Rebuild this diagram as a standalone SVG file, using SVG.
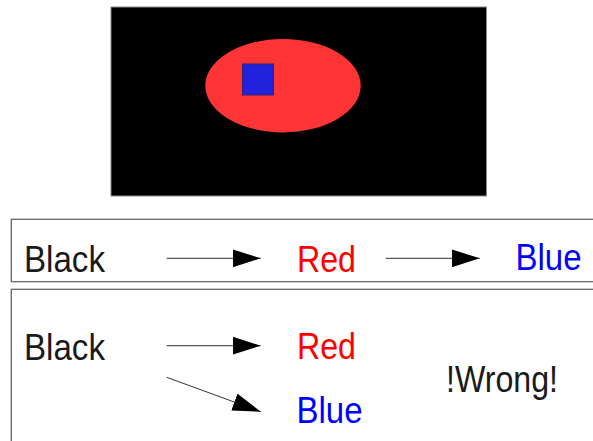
<svg xmlns="http://www.w3.org/2000/svg" width="593" height="441" viewBox="0 0 593 441">
<style>
.lbl{font-family:"Liberation Sans",Arial,sans-serif;font-size:37px;lengthAdjust:spacingAndGlyphs}
.panel{fill:none;stroke:#666;stroke-width:1.3}
.conn{stroke:#333;stroke-width:1;fill:none;marker-end:url(#ah)}
</style>
<defs>
<marker id="ah" markerUnits="userSpaceOnUse" markerWidth="28" markerHeight="18" refX="28" refY="9" orient="auto" viewBox="0 0 28 18">
<path d="M0,0 L28,9 L0,18 z" fill="#000"/>
</marker>
</defs>
<rect width="593" height="441" fill="#fff"/>
<g id="scene">
<rect x="111" y="7" width="375.5" height="189" fill="#000" stroke="#888" stroke-width="1"/>
<ellipse cx="283" cy="85.7" rx="77.7" ry="46.7" fill="#ff3535"/>
<rect x="242.5" y="64" width="31" height="31" fill="#2222dd" stroke="#332266" stroke-width="1"/>
</g>
<g id="panel1">
<rect class="panel" x="11.3" y="219.3" width="600" height="62.4"/>
</g>
<g id="panel2">
<rect class="panel" x="11.3" y="289.3" width="600" height="200"/>
</g>
<g id="p1-black"><text class="lbl" x="24" y="272.3" fill="#1a1a1a" textLength="81" lengthAdjust="spacingAndGlyphs">Black</text></g>
<g id="p1-red"><text class="lbl" x="297" y="272.3" fill="#ff0000" textLength="59" lengthAdjust="spacingAndGlyphs">Red</text></g>
<g id="p1-blue"><text class="lbl" x="515.5" y="270" fill="#0000ff" textLength="66" lengthAdjust="spacingAndGlyphs">Blue</text></g>
<g id="p2-black"><text class="lbl" x="24" y="360" fill="#1a1a1a" textLength="81" lengthAdjust="spacingAndGlyphs">Black</text></g>
<g id="p2-red"><text class="lbl" x="297" y="359" fill="#ff0000" textLength="59" lengthAdjust="spacingAndGlyphs">Red</text></g>
<g id="p2-blue"><text class="lbl" x="296.5" y="423.3" fill="#0000ff" textLength="66" lengthAdjust="spacingAndGlyphs">Blue</text></g>
<g id="wrong"><text class="lbl" x="446" y="391.7" fill="#1a1a1a" textLength="112" lengthAdjust="spacingAndGlyphs">!Wrong!</text></g>
<g id="connectors">
<line class="conn" x1="166.7" y1="258.3" x2="260.7" y2="258.3"/>
<line class="conn" x1="385.7" y1="258.3" x2="479.7" y2="258.3"/>
<line class="conn" x1="166.7" y1="345.7" x2="260.7" y2="345.7"/>
<line class="conn" x1="166.7" y1="377.3" x2="260.7" y2="411.7"/>
</g>
</svg>
